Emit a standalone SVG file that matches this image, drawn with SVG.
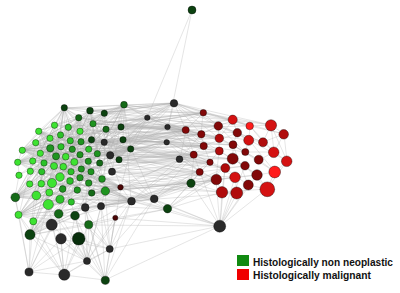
<svg xmlns="http://www.w3.org/2000/svg" width="400" height="293" viewBox="0 0 400 293">
<style>
.e{fill:none;stroke:#adadad;stroke-opacity:.45;stroke-width:.7}
circle{stroke:#000;stroke-opacity:.45;stroke-width:.8}
.g1{fill:#3ee332}.g2{fill:#2cc22a}.g3{fill:#1f9420}.g4{fill:#156a18}.g5{fill:#0c4210}.g6{fill:#082e0c}
.k{fill:#2a2a2a}
.r1{fill:#ff1c1c}.r2{fill:#d41212}.r3{fill:#b00c0c}.r4{fill:#820808}.r5{fill:#4a0505}
.t{font-family:"Liberation Sans",Arial,sans-serif;font-weight:bold;font-size:10.5px;fill:#111}
</style>
<rect width="400" height="293" fill="#fff"/>
<g id="connectors">
<path class="e" d="M64 108L124 105M64 108L39 131M64 108L22 150M64 108L18 162M39 131L22 150M22 150L18 162M18 162L19 175M19 175L15 197M15 197L19 215M19 215L30 235M30 235L29 272M29 272L64 275M64 275L105 280M105 280L87 261M105 280L110 249M124 105L131 149M124 105L123 140M131 149L121 187M121 187L131 201"/>
<path class="e" d="M64 108L61 135M64 108L50 138M64 108L70 141M64 108L81 142M64 108L92 140M64 108L104 142M64 108L123 140M64 108L40 153M64 108L56 156M64 108L66 157M64 108L80 155M64 108L110 155M64 108L131 149M64 108L36 196M64 108L49 193M64 108L15 197M64 108L52 183M64 108L89 183"/>
<path class="e" d="M90 111L39 131M90 111L36 143M90 111L22 150M90 111L50 148M90 111L61 147M90 111L72 149M90 111L97 154M90 111L100 163M90 111L119 160M90 111L44 163M90 111L63 167M90 111L81 169M90 111L112 172M90 111L121 187M90 111L105 191M90 111L60 177M90 111L33 161"/>
<path class="e" d="M124 105L55 125M124 105L68 127M124 105L80 131M124 105L61 135M124 105L50 138M124 105L70 141M124 105L81 142M124 105L104 142M124 105L89 149M124 105L97 154M124 105L88 161M124 105L74 162M124 105L112 172M124 105L102 179M124 105L92 193M124 105L77 190M124 105L131 201"/>
<path class="e" d="M79 118L39 131M79 118L22 150M79 118L33 161M79 118L54 166M79 118L71 172M79 118L81 169M79 118L91 172M79 118L102 179M79 118L30 184M79 118L49 193M79 118L15 197M79 118L63 189M104 113L36 143M104 113L40 153M104 113L18 162M104 113L42 172M104 113L54 166M104 113L66 157M104 113L80 155M104 113L89 149M104 113L110 155M104 113L119 160M104 113L105 191M104 113L85 208"/>
<path class="e" d="M39 131L61 147M39 131L72 149M39 131L89 149M39 131L97 154M39 131L110 155M39 131L100 163M39 131L88 161M39 131L63 167M39 131L71 172M39 131L81 169M39 131L91 172M39 131L102 179M39 131L89 183M39 131L63 189M39 131L77 190M39 131L48 205M39 131L71 202"/>
<path class="e" d="M22 150L55 125M22 150L68 127M22 150L93 124M22 150L80 131M22 150L106 129M22 150L121 127M22 150L81 142M22 150L92 140M22 150L104 142M22 150L123 140M22 150L72 149M22 150L97 154M22 150L110 155M22 150L80 155M22 150L100 163M22 150L119 160M22 150L112 172M22 150L81 169M22 150L102 179M22 150L89 183M22 150L105 191"/>
<path class="e" d="M18 162L68 127M18 162L93 124M18 162L106 129M18 162L70 141M18 162L92 140M18 162L123 140M18 162L61 147M18 162L89 149M18 162L110 155M18 162L131 149M18 162L88 161M18 162L100 163M18 162L91 172M18 162L102 179M18 162L121 187M18 162L92 193M18 162L85 208M18 162L101 206"/>
<path class="e" d="M15 197L55 125M15 197L80 131M15 197L121 127M15 197L61 135M15 197L92 140M15 197L123 140M15 197L50 148M15 197L72 149M15 197L97 154M15 197L66 157M15 197L88 161M15 197L119 160M15 197L63 167M15 197L81 169M15 197L112 172M15 197L70 181M15 197L89 183M15 197L105 191M15 197L92 193M15 197L131 201M15 197L71 202M15 197L101 206"/>
<path class="e" d="M19 215L36 143M19 215L61 147M19 215L89 149M19 215L56 156M19 215L80 155M19 215L100 163M19 215L54 166M19 215L71 172M19 215L91 172M19 215L60 177M19 215L80 178M19 215L102 179M19 215L49 193M19 215L63 189M19 215L77 190M19 215L92 193M19 215L105 191M19 215L85 208M19 215L101 206M19 215L89 225M19 215L52 225M19 215L75 216"/>
<path class="e" d="M30 235L40 153M30 235L61 147M30 235L44 163M30 235L66 157M30 235L88 161M30 235L54 166M30 235L71 172M30 235L91 172M30 235L52 183M30 235L70 181M30 235L89 183M30 235L105 191M30 235L63 189M30 235L77 190M30 235L60 199M30 235L71 202M30 235L85 208M30 235L101 206M30 235L59 214M30 235L75 216M30 235L89 225M30 235L115 218"/>
<path class="e" d="M131 149L55 125M131 149L68 127M131 149L39 131M131 149L61 135M131 149L50 138M131 149L70 141M131 149L36 143M131 149L40 153M131 149L50 148M131 149L33 161M131 149L44 163M131 149L66 157M131 149L74 162M131 149L54 166M131 149L42 172M131 149L30 171M131 149L63 167M131 149L41 184M131 149L60 177M131 149L70 181M131 149L36 196M131 149L63 189M131 149L48 205"/>
<path class="e" d="M121 187L22 150M121 187L36 143M121 187L40 153M121 187L50 148M121 187L61 147M121 187L33 161M121 187L56 156M121 187L30 171M121 187L54 166M121 187L63 167M121 187L42 172M121 187L30 184M121 187L41 184M121 187L52 183M121 187L36 196M121 187L49 193M121 187L48 205M121 187L60 199M121 187L59 214M121 187L52 225"/>
<path class="e" d="M131 201L36 143M131 201L50 148M131 201L40 153M131 201L56 156M131 201L44 163M131 201L63 167M131 201L54 166M131 201L42 172M131 201L30 184M131 201L52 183M131 201L60 177M131 201L36 196M131 201L49 193M131 201L60 199M131 201L48 205M131 201L59 214M131 201L75 216M131 201L89 225"/>
<path class="e" d="M55 125L36 196M55 125L48 205M55 125L63 189M55 125L92 193M68 127L30 184M68 127L52 183M68 127L77 190M68 127L101 206M93 124L30 171M93 124L41 184M93 124L60 199M93 124L85 208M80 131L19 175M80 131L49 193M80 131L71 202M106 129L33 161M106 129L52 183M106 129L36 196M106 129L59 214M121 127L44 163M121 127L41 184M121 127L60 199M121 127L75 216M61 135L30 184M61 135L89 183M61 135L105 191M81 142L29 184M81 142L48 205M92 140L19 175M92 140L63 189M92 140L52 225M104 142L30 171M104 142L54 183M104 142L59 214M50 138L91 172M50 138L102 179M50 138L77 190M36 143L88 161M36 143L80 178M36 143L92 193M72 149L30 184M72 149L36 196M72 149L89 225"/>
<path class="e" d="M64 275L30 235M64 275L52 225M64 275L61 239M64 275L79 239M64 275L89 225M64 275L75 216M64 275L59 214M64 275L48 205M64 275L33 221M64 275L19 215M64 275L87 261M64 275L110 249M29 272L52 225M29 272L61 239M29 272L33 221M29 272L19 215M29 272L48 205M29 272L59 214M29 272L15 197M29 272L79 239M29 272L87 261"/>
<path class="e" d="M87 261L52 225M87 261L61 239M87 261L79 239M87 261L89 225M87 261L75 216M87 261L59 214M87 261L101 206M87 261L115 218M87 261L85 208M87 261L110 249M87 261L30 235M87 261L48 205M87 261L71 202M87 261L131 201M87 261L105 191"/>
<path class="e" d="M105 280L89 225M105 280L79 239M105 280L61 239M105 280L101 206M105 280L115 218M105 280L131 201M105 280L154 199M105 280L85 208M105 280L75 216M110 249L89 225M110 249L79 239M110 249L101 206M110 249L115 218M110 249L131 201M110 249L85 208M110 249L105 191M110 249L154 199M110 249L75 216M110 249L61 239M110 249L121 187"/>
<path class="e" d="M192 10L147 118M192 10L168 127"/>
<path class="e" d="M174 103L124 105M174 103L121 127M174 103L106 129M174 103L93 124M174 103L104 113M174 103L90 111M174 103L123 140M174 103L131 149M174 103L147 118M174 103L203 113M174 103L233 120M174 103L218 126M174 103L186 130M174 103L201 134M174 103L237 133M174 103L219 138M174 103L250 126M174 103L271 125M174 103L104 142M174 103L110 155M174 103L168 127M174 103L64 108M174 103L79 118"/>
<path class="e" d="M147 118L124 105M147 118L121 127M147 118L123 140M147 118L131 149M147 118L104 142M147 118L106 129M147 118L186 130M147 118L203 113M147 118L201 134M147 118L218 126M147 118L204 146M147 118L219 138M147 118L110 155M147 118L119 160M147 118L93 124M147 118L79 118M147 118L68 127"/>
<path class="e" d="M168 127L124 105M168 127L121 127M168 127L131 149M168 127L203 113M168 127L186 130M168 127L201 134M168 127L204 146M168 127L219 138M168 127L218 126M168 127L233 120M168 127L194 155M168 127L104 142M168 127L123 140M168 127L110 155M168 127L93 124M168 127L80 131"/>
<path class="e" d="M167 142L131 149M167 142L123 140M167 142L121 127M167 142L110 155M167 142L119 160M167 142L112 172M167 142L186 130M167 142L201 134M167 142L204 146M167 142L194 155M167 142L219 138M167 142L219 151M167 142L233 145M167 142L210 162M167 142L200 172M167 142L106 129M167 142L104 142M167 142L92 140M167 142L81 142M167 142L70 141"/>
<path class="e" d="M180 159L131 149M180 159L119 160M180 159L112 172M180 159L121 187M180 159L131 201M180 159L110 155M180 159L194 155M180 159L204 146M180 159L210 162M180 159L200 172M180 159L216 180M180 159L219 151M180 159L233 159M180 159L225 168M180 159L186 130M180 159L201 134M180 159L97 154M180 159L89 149M180 159L81 169"/>
<path class="e" d="M191 183L131 201M191 183L154 199M191 183L167 209M191 183L121 187M191 183L112 172M191 183L119 160M191 183L200 172M191 183L216 180M191 183L222 192M191 183L210 162M191 183L225 168M191 183L194 155M191 183L235 177M191 183L220 226M191 183L102 179M191 183L92 193"/>
<path class="e" d="M220 226L131 201M220 226L154 199M220 226L167 209M220 226L222 192M220 226L237 193M220 226L216 180M220 226L248 185M220 226L267 189M220 226L235 177M220 226L257 175M220 226L200 172M220 226L225 168M220 226L115 218M220 226L110 249M220 226L121 187M220 226L89 225M220 226L105 280M220 226L245 166"/>
<path class="e" d="M154 199L121 187M154 199L131 201M154 199L167 209M154 199L131 149M154 199L119 160M154 199L112 172M154 199L200 172M154 199L194 155M154 199L216 180M154 199L210 162M154 199L105 191M154 199L92 193M154 199L85 208M154 199L101 206M167 209L131 201M167 209L200 172M167 209L216 180M167 209L222 192M167 209L121 187M167 209L115 218M167 209L105 191M167 209L225 168M167 209L101 206M167 209L89 225M131 201L200 172M131 201L194 155M131 201L101 206M131 201L85 208"/>
<path class="e" d="M123 140L186 130M123 140L201 134M123 140L204 146M121 127L203 113M121 127L218 126M131 149L194 155M131 149L210 162M131 149L204 146M110 155L200 172M110 155L194 155M119 160L210 162M119 160L219 151M112 172L200 172M112 172L216 180M121 187L200 172M121 187L216 180M105 191L194 155M106 129L186 130M104 142L186 130M104 142L204 146M124 105L203 113M124 105L233 120M124 105L186 130M92 140L201 134M97 154L194 155M100 163L200 172M102 179L210 162M89 149L186 130M93 124L203 113M93 124L186 130M104 113L186 130M90 111L174 103M104 113L174 103"/>
<path class="e" d="M64 108L203 113M64 108L233 120M64 108L186 130M90 111L203 113M90 111L218 126M90 111L250 126M79 118L186 130M79 118L201 134M79 118L219 138M55 125L186 130M55 125L204 146M68 127L203 113M68 127L233 145M93 124L218 126M93 124L237 133M80 131L201 134M80 131L219 151M106 129L203 113M106 129L219 138M106 129L250 126M121 127L186 130M121 127L233 120M121 127L204 146M61 135L186 130M61 135L194 155M81 142L204 146M81 142L233 159M92 140L219 138M92 140L210 162M104 142L201 134M104 142L225 168M123 140L218 126M123 140L233 145M123 140L194 155"/>
<path class="e" d="M89 149L204 146M89 149L200 172M97 154L219 151M97 154L186 130M110 155L201 134M110 155L233 159M110 155L216 180M119 160L194 155M119 160L225 168M119 160L186 130M112 172L210 162M112 172L235 177M102 179L200 172M102 179L222 192M105 191L216 180M105 191L191 183M121 187L210 162M121 187L222 192M131 201L216 180M131 201L237 193M92 193L191 183M92 193L200 172M85 208L191 183M101 206L216 180M101 206L191 183M72 149L204 146M72 149L194 155M50 148L186 130M40 153L201 134M33 161L194 155M44 163L210 162M54 166L200 172M63 167L186 130M71 172L194 155M81 169L204 146M91 172L219 151M36 143L203 113M22 150L186 130"/>
<path class="e" d="M203 113L233 120M203 113L218 126M203 113L186 130M203 113L201 134M203 113L250 126M233 120L250 126M233 120L271 125M233 120L237 133M233 120L219 138M218 126L237 133M218 126L201 134M218 126L219 138M218 126L249 140M250 126L271 125M250 126L284 134M250 126L249 140M250 126L263 142M271 125L284 134M271 125L263 142M271 125L274 152M284 134L274 152M284 134L287 161M284 134L263 142M186 130L201 134M186 130L204 146M186 130L194 155M201 134L219 138M201 134L204 146M237 133L249 140M237 133L233 145M219 138L233 145M219 138L219 151M249 140L263 142M249 140L245 152M263 142L274 152"/>
<path class="e" d="M204 146L219 151M204 146L194 155M204 146L210 162M233 145L245 152M233 145L233 159M219 151L233 159M219 151L210 162M245 152L259 160M274 152L287 161M274 152L259 160M194 155L210 162M194 155L200 172M233 159L245 166M233 159L225 168M259 160L275 172M287 161L275 172M210 162L225 168M210 162L200 172M225 168L245 166M245 166L257 175M275 172L257 175M200 172L216 180M216 180L235 177M235 177L257 175M248 185L267 189M222 192L237 193M216 180L222 192M235 177L237 193M257 175L267 189M248 185L237 193M287 161L267 189M275 172L267 189"/>
<path class="e" d="M271 125L287 161M233 120L284 134M203 113L271 125M218 126L263 142M201 134L249 140M204 146L245 152M194 155L233 159M200 172L245 166M216 180L257 175M222 192L267 189M186 130L233 145M219 138L259 160M233 145L275 172M210 162L235 177M225 168L248 185M245 152L274 152M237 133L263 142M219 151L245 166M186 130L219 151M201 134L233 120M204 146L237 133M233 159L257 175M245 166L267 189M219 151L216 180M233 145L248 185M250 126L274 152M218 126L245 152M237 133L287 161M249 140L275 172M225 168L222 192"/>
</g>
<g id="n96"><circle class="g5" cx="192" cy="10" r="4"/></g>
<g id="n1"><circle class="g5" cx="64.3" cy="107.7" r="3.2"/></g>
<g id="n2"><circle class="g5" cx="90" cy="110.7" r="3.4"/></g>
<g id="n3"><circle class="g4" cx="124" cy="104.7" r="3.4"/></g>
<g id="n4"><circle class="g4" cx="78.7" cy="117.7" r="3.2"/></g>
<g id="n5"><circle class="g5" cx="104.3" cy="113.3" r="3.2"/></g>
<g id="n6"><circle class="g1" cx="54.5" cy="125.2" r="3.2"/></g>
<g id="n7"><circle class="g2" cx="68.3" cy="127.3" r="3.2"/></g>
<g id="n8"><circle class="g3" cx="93" cy="123.7" r="3.2"/></g>
<g id="n9"><circle class="g1" cx="80" cy="131.3" r="3.2"/></g>
<g id="n10"><circle class="g4" cx="106" cy="129.3" r="3.2"/></g>
<g id="n11"><circle class="g5" cx="121" cy="127" r="3.2"/></g>
<g id="n12"><circle class="g1" cx="38.7" cy="131.3" r="3.2"/></g>
<g id="n13"><circle class="g2" cx="60.5" cy="135" r="3.2"/></g>
<g id="n14"><circle class="g1" cx="50" cy="138.3" r="3.2"/></g>
<g id="n15"><circle class="g2" cx="70.3" cy="140.7" r="3.2"/></g>
<g id="n16"><circle class="g3" cx="81" cy="141.7" r="3.2"/></g>
<g id="n17"><circle class="g5" cx="91.5" cy="139.7" r="3.2"/></g>
<g id="n18"><circle class="k" cx="104.2" cy="142.3" r="3.2"/></g>
<g id="n19"><circle class="g5" cx="123" cy="139.7" r="3.2"/></g>
<g id="n20"><circle class="g1" cx="35.7" cy="142.7" r="3.2"/></g>
<g id="n21"><circle class="g1" cx="22.3" cy="150.3" r="3.2"/></g>
<g id="n22"><circle class="g1" cx="40.3" cy="153.3" r="3.2"/></g>
<g id="n23"><circle class="g3" cx="50.3" cy="148.3" r="3.7"/></g>
<g id="n24"><circle class="g2" cx="61" cy="146.7" r="3.2"/></g>
<g id="n25"><circle class="g3" cx="72.3" cy="149.3" r="3.2"/></g>
<g id="n26"><circle class="g2" cx="88.7" cy="149.3" r="3.2"/></g>
<g id="n27"><circle class="g3" cx="97.3" cy="153.7" r="3.2"/></g>
<g id="n28"><circle class="k" cx="110.2" cy="155.3" r="3.7"/></g>
<g id="n30"><circle class="g5" cx="130.7" cy="149" r="3.2"/></g>
<g id="n31"><circle class="g1" cx="17.7" cy="162.3" r="3.2"/></g>
<g id="n32"><circle class="g1" cx="32.7" cy="161" r="3.2"/></g>
<g id="n33"><circle class="g2" cx="44" cy="163" r="3.2"/></g>
<g id="n34"><circle class="g3" cx="56" cy="156.3" r="3.6"/></g>
<g id="n35"><circle class="g1" cx="65.7" cy="156.7" r="3.4"/></g>
<g id="n36"><circle class="g1" cx="74.3" cy="162" r="3.6"/></g>
<g id="n37"><circle class="g3" cx="80" cy="154.7" r="3.2"/></g>
<g id="n38"><circle class="g3" cx="88.3" cy="161.3" r="3.2"/></g>
<g id="n39"><circle class="g4" cx="99.7" cy="163" r="3.2"/></g>
<g id="n40"><circle class="g5" cx="119" cy="159.7" r="3.2"/></g>
<g id="n41"><circle class="k" cx="112" cy="171.7" r="3.6"/></g>
<g id="n42"><circle class="g1" cx="19" cy="175.3" r="3.2"/></g>
<g id="n43"><circle class="g1" cx="30.3" cy="171.3" r="3.2"/></g>
<g id="n44"><circle class="g2" cx="41.7" cy="171.7" r="3.2"/></g>
<g id="n45"><circle class="g1" cx="54" cy="166" r="3.6"/></g>
<g id="n46"><circle class="g1" cx="63.3" cy="166.7" r="3.4"/></g>
<g id="n47"><circle class="g2" cx="71" cy="171.7" r="3.2"/></g>
<g id="n48"><circle class="g3" cx="81.3" cy="169" r="3.2"/></g>
<g id="n49"><circle class="g3" cx="91" cy="171.7" r="3.2"/></g>
<g id="n50"><circle class="g3" cx="102" cy="179" r="3.4"/></g>
<g id="n51"><circle class="r5" cx="120.5" cy="187.2" r="2.8"/></g>
<g id="n52"><circle class="g1" cx="29.7" cy="184" r="3.2"/></g>
<g id="n53"><circle class="g1" cx="41.3" cy="183.7" r="3.4"/></g>
<g id="n54"><circle class="g1" cx="52" cy="183" r="4.6"/></g>
<g id="n55"><circle class="g1" cx="60" cy="177" r="4.3"/></g>
<g id="n56"><circle class="g2" cx="70" cy="181" r="3.4"/></g>
<g id="n57"><circle class="g3" cx="80" cy="177.7" r="3.3"/></g>
<g id="n58"><circle class="g3" cx="88.7" cy="183" r="3.3"/></g>
<g id="n59"><circle class="g3" cx="105.3" cy="191" r="4.3"/></g>
<g id="n60"><circle class="g4" cx="15.3" cy="197.3" r="4.4"/></g>
<g id="n61"><circle class="g1" cx="36.3" cy="195.5" r="4.4"/></g>
<g id="n62"><circle class="g1" cx="49.3" cy="192.5" r="3.6"/></g>
<g id="n63"><circle class="g3" cx="62.7" cy="189" r="3.4"/></g>
<g id="n64"><circle class="g3" cx="77.3" cy="190" r="3.3"/></g>
<g id="n65"><circle class="g4" cx="91.7" cy="193" r="3.3"/></g>
<g id="n66"><circle class="g1" cx="18.5" cy="214.8" r="3.6"/></g>
<g id="n67"><circle class="g1" cx="33.3" cy="221.3" r="3.6"/></g>
<g id="n68"><circle class="g1" cx="48.3" cy="204.5" r="5.1"/></g>
<g id="n69"><circle class="g2" cx="60" cy="199.3" r="4.1"/></g>
<g id="n70"><circle class="g2" cx="71.3" cy="202" r="3.2"/></g>
<g id="n71"><circle class="k" cx="85.2" cy="207.5" r="3.9"/></g>
<g id="n72"><circle class="k" cx="101" cy="206.2" r="3.6"/></g>
<g id="n73"><circle class="g4" cx="58.7" cy="213.8" r="4.4"/></g>
<g id="n74"><circle class="g5" cx="75" cy="215.7" r="4.4"/></g>
<g id="n75"><circle class="k" cx="51.7" cy="224.7" r="5.6"/></g>
<g id="n76"><circle class="g4" cx="88.7" cy="224.7" r="4.1"/></g>
<g id="n77"><circle class="r5" cx="115.3" cy="217.8" r="2.6"/></g>
<g id="n78"><circle class="g5" cx="30" cy="234.7" r="5.1"/></g>
<g id="n79"><circle class="k" cx="61" cy="238.7" r="5.3"/></g>
<g id="n80"><circle class="g6" cx="78.7" cy="238.7" r="6.4"/></g>
<g id="n81"><circle class="k" cx="131.5" cy="201.2" r="3.9"/></g>
<g id="n82"><circle class="k" cx="154.2" cy="198.8" r="3.9"/></g>
<g id="n83"><circle class="g5" cx="167.5" cy="208.7" r="4.2"/></g>
<g id="n84"><circle class="k" cx="109.7" cy="249" r="3.6"/></g>
<g id="n85"><circle class="k" cx="87" cy="261" r="3.6"/></g>
<g id="n86"><circle class="k" cx="29" cy="272" r="4.1"/></g>
<g id="n87"><circle class="k" cx="64.3" cy="274.7" r="5.6"/></g>
<g id="n88"><circle class="g5" cx="105.3" cy="280.3" r="4.1"/></g>
<g id="n89"><circle class="k" cx="174" cy="103.3" r="3.8"/></g>
<g id="n90"><circle class="k" cx="147.3" cy="117.7" r="2.8"/></g>
<g id="n91"><circle class="k" cx="167.5" cy="127" r="2.8"/></g>
<g id="n92"><circle class="k" cx="166.7" cy="142.3" r="2.8"/></g>
<g id="n93"><circle class="k" cx="179.5" cy="159.2" r="3.4"/></g>
<g id="n94"><circle class="g5" cx="191" cy="183.3" r="4.2"/></g>
<g id="n95"><circle class="k" cx="219.7" cy="226.2" r="6"/></g>
<g id="n97"><circle class="r4" cx="203.3" cy="112.7" r="3.3"/></g>
<g id="n98"><circle class="r2" cx="232.7" cy="119.7" r="4.6"/></g>
<g id="n99"><circle class="r4" cx="218.3" cy="126" r="4.3"/></g>
<g id="n100"><circle class="r1" cx="249.7" cy="126" r="3.8"/></g>
<g id="n101"><circle class="r2" cx="271" cy="125.3" r="5.6"/></g>
<g id="n102"><circle class="r3" cx="283.7" cy="134.3" r="4.8"/></g>
<g id="n103"><circle class="r4" cx="185.7" cy="130" r="3.6"/></g>
<g id="n104"><circle class="r4" cx="201.3" cy="134.3" r="3.7"/></g>
<g id="n105"><circle class="r4" cx="237.3" cy="132.7" r="4.3"/></g>
<g id="n106"><circle class="r3" cx="219.3" cy="138.3" r="4.3"/></g>
<g id="n107"><circle class="r2" cx="248.7" cy="140.3" r="5"/></g>
<g id="n108"><circle class="r3" cx="263" cy="142.3" r="4.5"/></g>
<g id="n109"><circle class="r4" cx="203.7" cy="146" r="3.7"/></g>
<g id="n110"><circle class="r4" cx="233" cy="144.7" r="4"/></g>
<g id="n111"><circle class="r3" cx="219.3" cy="151" r="4"/></g>
<g id="n112"><circle class="r4" cx="245.3" cy="152" r="3.6"/></g>
<g id="n113"><circle class="r2" cx="273.7" cy="152.3" r="5.3"/></g>
<g id="n114"><circle class="r4" cx="193.7" cy="154.7" r="3.6"/></g>
<g id="n115"><circle class="r4" cx="232.7" cy="158.7" r="5.5"/></g>
<g id="n116"><circle class="r4" cx="258.7" cy="159.7" r="4.5"/></g>
<g id="n117"><circle class="r2" cx="286.7" cy="161.3" r="5.3"/></g>
<g id="n118"><circle class="r4" cx="210" cy="162.3" r="3.2"/></g>
<g id="n119"><circle class="r3" cx="225.3" cy="168" r="4.5"/></g>
<g id="n120"><circle class="r4" cx="245" cy="165.7" r="4.3"/></g>
<g id="n121"><circle class="r1" cx="274.7" cy="172" r="5.9"/></g>
<g id="n122"><circle class="r4" cx="199.7" cy="172" r="3.6"/></g>
<g id="n123"><circle class="r4" cx="216.3" cy="179.5" r="5.3"/></g>
<g id="n124"><circle class="r2" cx="235" cy="177.3" r="5.3"/></g>
<g id="n125"><circle class="r4" cx="257" cy="175" r="5.3"/></g>
<g id="n126"><circle class="r4" cx="248.3" cy="185" r="5"/></g>
<g id="n127"><circle class="r3" cx="222" cy="192.3" r="5.7"/></g>
<g id="n128"><circle class="r3" cx="236.7" cy="193" r="6"/></g>
<g id="n129"><circle class="r2" cx="267.3" cy="189.3" r="7.4"/></g>
<g id="legend">
<rect x="237" y="255" width="12" height="11" fill="#118a11"/>
<rect x="237" y="269" width="12" height="11" fill="#f00000"/>
<text class="t" x="253" y="265.5" textLength="140" lengthAdjust="spacingAndGlyphs">Histologically non neoplastic</text>
<text class="t" x="253" y="279" textLength="118" lengthAdjust="spacingAndGlyphs">Histologically malignant</text>
</g>
</svg>
